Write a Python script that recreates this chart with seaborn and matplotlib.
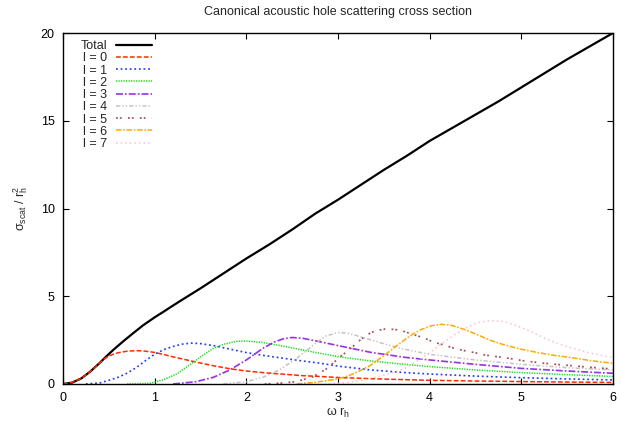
import matplotlib
matplotlib.use("Agg")
import matplotlib.pyplot as plt
import seaborn as sns

# values (x = omega r_h, y = sigma / r_h^2)
total_x = [0, 0.1, 0.2, 0.3, 0.4, 0.47, 0.55, 0.65, 0.75, 0.87, 1.0, 1.1, 1.2, 1.3, 1.5,
           1.75, 2.0, 2.25, 2.5, 2.75, 3.0, 3.25, 3.5, 3.75, 4.0, 4.25, 4.5, 4.75, 5.0,
           5.25, 5.5, 5.75, 6.0]
total_y = [0, 0.08, 0.32, 0.72, 1.2, 1.56, 1.95, 2.4, 2.83, 3.33, 3.8, 4.13, 4.47, 4.8, 5.45,
           6.3, 7.15, 7.95, 8.8, 9.7, 10.5, 11.35, 12.2, 13.0, 13.85, 14.6, 15.35, 16.1, 16.9,
           17.7, 18.5, 19.25, 20.0]

l0_x = [0, 0.07, 0.2, 0.3, 0.4, 0.45, 0.5, 0.55, 0.6, 0.7, 0.8, 0.9, 1.0, 1.1, 1.2, 1.3, 1.45,
        1.64, 1.82, 2.0, 2.2, 2.4, 2.6, 2.8, 3.0, 3.5, 4.0, 4.5, 5.0, 5.5, 6.0]
l0_y = [0, 0.04, 0.32, 0.72, 1.2, 1.43, 1.59, 1.7, 1.78, 1.87, 1.9, 1.87, 1.8, 1.68, 1.55, 1.43, 1.25,
        1.04, 0.87, 0.74, 0.64, 0.56, 0.48, 0.43, 0.37, 0.28, 0.21, 0.17, 0.14, 0.11, 0.09]

l1_x = [0.25, 0.4, 0.5, 0.6, 0.7, 0.8, 0.9, 1.0, 1.1, 1.2, 1.3, 1.4, 1.5, 1.65, 1.82, 2.0, 2.2,
        2.4, 2.6, 2.8, 3.0, 3.36, 3.73, 4.0, 4.5, 5.0, 5.5, 6.0]
l1_y = [0, 0.06, 0.21, 0.38, 0.62, 0.94, 1.33, 1.7, 1.96, 2.14, 2.27, 2.33, 2.3, 2.18, 1.99, 1.79, 1.62,
        1.47, 1.32, 1.19, 1.02, 0.8, 0.65, 0.57, 0.45, 0.36, 0.29, 0.23]

l2_x = [0.7, 0.95, 1.1, 1.24, 1.38, 1.53, 1.64, 1.75, 1.89, 2.0, 2.18, 2.36, 2.55, 2.73, 3.0,
        3.36, 3.73, 4.0, 4.5, 5.0, 5.5, 6.0]
l2_y = [0, 0.04, 0.25, 0.57, 1.08, 1.65, 2.03, 2.26, 2.43, 2.45, 2.36, 2.2, 2.01, 1.82, 1.56,
        1.31, 1.12, 0.99, 0.8, 0.65, 0.53, 0.43]

l3_x = [1.2, 1.45, 1.64, 1.82, 2.0, 2.18, 2.3, 2.4, 2.5, 2.62, 2.8, 3.0, 3.36, 3.73, 4.0, 4.5,
        5.0, 5.5, 6.0]
l3_y = [0, 0.13, 0.38, 0.8, 1.37, 2.03, 2.38, 2.57, 2.65, 2.6, 2.41, 2.19, 1.8, 1.52, 1.37, 1.12,
        0.89, 0.74, 0.61]

l4_x = [1.75, 2.0, 2.18, 2.36, 2.55, 2.73, 2.87, 3.0, 3.1, 3.2, 3.36, 3.55, 3.73, 4.0, 4.5, 5.0,
        5.5, 6.0]
l4_y = [0, 0.13, 0.38, 0.8, 1.46, 2.22, 2.74, 2.93, 2.9, 2.76, 2.51, 2.22, 1.98, 1.69, 1.37, 1.12,
        0.93, 0.8]

l5_x = [2.2, 2.4, 2.55, 2.73, 2.87, 2.96, 3.04, 3.13, 3.22, 3.31, 3.4, 3.51, 3.62, 3.73, 3.84,
        3.95, 4.05, 4.16, 4.27, 4.38, 4.49, 4.6, 4.82, 5.04, 5.25, 5.51, 5.76, 6.0]
l5_y = [0, 0.06, 0.14, 0.42, 0.85, 1.25, 1.62, 1.98, 2.41, 2.79, 3.02, 3.13, 3.11, 2.98, 2.79,
        2.6, 2.37, 2.22, 2.03, 1.9, 1.79, 1.65, 1.5, 1.31, 1.18, 1.06, 0.95, 0.85]

l6_x = [2.55, 2.76, 3.0, 3.11, 3.22, 3.36, 3.51, 3.65, 3.8, 3.91, 4.02, 4.13, 4.24, 4.38, 4.53,
        4.67, 4.82, 5.0, 5.18, 5.36, 5.55, 5.76, 6.0]
l6_y = [0, 0.1, 0.29, 0.46, 0.7, 1.08, 1.65, 2.22, 2.79, 3.11, 3.32, 3.4, 3.34, 3.11, 2.79,
        2.47, 2.22, 1.98, 1.79, 1.63, 1.5, 1.33, 1.18]

l7_x = [2.9, 3.0, 3.18, 3.36, 3.55, 3.73, 3.91, 4.09, 4.24, 4.38, 4.53, 4.67, 4.82, 4.96, 5.11,
        5.25, 5.4, 5.55, 5.76, 6.0]
l7_y = [0, 0.04, 0.13, 0.32, 0.57, 0.89, 1.46, 2.13, 2.7, 3.17, 3.5, 3.61, 3.55, 3.3, 2.98,
        2.62, 2.3, 2.05, 1.75, 1.5]

labels = ["Total", "l = 0", "l = 1", "l = 2", "l = 3", "l = 4", "l = 5", "l = 6", "l = 7"]
series = [(total_x, total_y), (l0_x, l0_y), (l1_x, l1_y), (l2_x, l2_y), (l3_x, l3_y),
          (l4_x, l4_y), (l5_x, l5_y), (l6_x, l6_y), (l7_x, l7_y)]

colors = ["#000000", "#ff2a00", "#1f3cff", "#11e011", "#9a2fe6", "#c4c4c4", "#a8484a",
          "#ffaa00", "#ffc0cb"]
styles = ["-", (0, (3.5, 1.5)), (0, (1.3, 2.0)), (0, (0.9, 0.9)), (0, (5, 1.5, 1.2, 1.5)),
          (0, (3, 1.5, 1, 1.5, 1, 1.5)), (0, (1.3, 1.5, 1.3, 4.5)), (0, (4, 1.2, 1.2, 1.2)),
          (0, (1.1, 2.2))]
widths = [1.6, 1.1, 1.2, 1.1, 1.2, 1.1, 1.2, 1.1, 1.1]

sns.set_theme(style="ticks")
plt.rcParams["font.family"] = ["Liberation Sans", "DejaVu Sans"]
plt.rcParams["mathtext.fontset"] = "custom"
plt.rcParams["mathtext.rm"] = "Liberation Sans"
plt.rcParams["mathtext.it"] = "Liberation Sans:italic"
plt.rcParams["mathtext.default"] = "regular"
plt.rcParams["lines.scale_dashes"] = False

fig = plt.figure(figsize=(6.21, 4.22), dpi=100)
ax = fig.add_axes([63 / 621, 1 - 384 / 422, 550 / 621, 351 / 422])

for (xs, ys), lab, c, ls, lw in zip(series, labels, colors, styles, widths):
    sns.lineplot(x=xs, y=ys, ax=ax, color=c, linestyle=ls, linewidth=lw, label=lab,
                 estimator=None, sort=False)

ax.set_xlim(0, 6)
ax.set_ylim(0, 20)
ax.set_xticks(range(0, 7))
ax.set_yticks(range(0, 21, 5))
ax.tick_params(direction="in", length=4, width=0.8, top=True, right=True,
               labelsize=9, colors="black", pad=6)
for sp in ax.spines.values():
    sp.set_visible(True)
    sp.set_linewidth(1.0)
    sp.set_color("black")

ax.set_title("Canonical acoustic hole scattering cross section", fontsize=9, pad=13)
ax.set_xlabel("ω r$_{h}$", fontsize=9, labelpad=1)
ax.set_ylabel("σ$_{scat}$ / r$_{h}^{2}$", fontsize=9, labelpad=8)

# markerfirst=False -> texts on the left, right-aligned like gnuplot's key
ax.legend(loc="upper left", bbox_to_anchor=(0.012, 1.012), frameon=False, markerfirst=False,
          fontsize=9, handlelength=2.9, handletextpad=0.65, labelspacing=0.02,
          borderaxespad=0.5, borderpad=0.4)

fig.savefig("out.png", dpi=100)
